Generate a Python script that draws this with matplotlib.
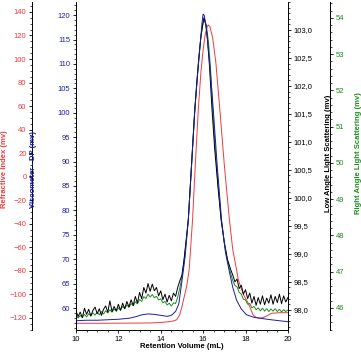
import numpy as np
import matplotlib
matplotlib.use("Agg")
import matplotlib.pyplot as plt
from matplotlib.ticker import AutoMinorLocator, FuncFormatter

plt.rcParams['font.family'] = ['Liberation Sans Narrow', 'Liberation Sans', 'DejaVu Sans']

# Refractive index (mV)
ri_x = [10.0, 11.0, 12.0, 13.0, 13.5, 14.0, 14.4, 14.6, 14.75, 14.9, 15.0, 15.1, 15.22, 15.34,
        15.5, 15.63, 15.77, 15.9, 16.0, 16.1, 16.18, 16.24, 16.32, 16.45, 16.6, 16.79, 17.0,
        17.24, 17.4, 17.58, 17.66, 17.9, 18.13, 18.36, 18.5, 18.68, 18.85, 19.0, 19.23, 19.6, 20.0]
ri_y = [-124.5, -124.5, -124.4, -124.3, -124.2, -123.8, -123.1, -122.5, -121.5, -117.0, -110.4,
        -102.5, -93.4, -79.2, -36.7, 10.0, 56.7, 90.0, 108.0, 121.0, 127.0, 129.0, 127.5, 118.0,
        97.0, 56.7, 10.0, -36.7, -62.0, -79.2, -87.7, -100.0, -107.5, -117.4, -119.5, -120.2,
        -119.5, -118.3, -116.0, -115.5, -115.5]

# Viscometer DP (mV)
dp_x = [10.0, 10.5, 11.0, 11.5, 12.0, 12.5, 12.8, 13.1, 13.4, 13.7, 14.0, 14.3, 14.5, 14.7,
        14.85, 15.0, 15.15, 15.3, 15.45, 15.61, 15.75, 15.85, 15.95, 16.0, 16.05, 16.15, 16.3,
        16.48, 16.65, 16.87, 17.05, 17.22, 17.4, 17.58, 17.8, 18.05, 18.4, 18.7, 19.2, 19.6, 20.0]
dp_y = [57.4, 57.5, 57.5, 57.6, 57.7, 57.9, 58.2, 58.6, 58.8, 58.7, 58.5, 58.3, 58.5, 59.3,
        60.8, 65.5, 70.5, 78.0, 89.0, 100.6, 108.5, 113.5, 118.5, 120.2, 120.0, 117.5, 110.5,
        100.6, 90.0, 78.0, 71.5, 67.8, 64.2, 61.6, 59.8, 58.6, 58.1, 57.9, 57.6, 57.4, 57.2]

# Low angle light scattering (mV)
lals_x = [10.0, 10.1, 10.2, 10.3, 10.4, 10.5, 10.6, 10.7, 10.8, 10.9,
          11.0, 11.1, 11.2, 11.3, 11.4, 11.5, 11.6, 11.7, 11.8, 11.9,
          12.0, 12.1, 12.2, 12.3, 12.4, 12.5, 12.6, 12.7, 12.8, 12.9,
          13.0, 13.1, 13.2, 13.3, 13.4, 13.5, 13.6, 13.7, 13.8, 13.9,
          14.0, 14.1, 14.2, 14.3, 14.4, 14.5, 14.6, 14.7, 14.8, 14.9,
          15.0, 15.1, 15.2, 15.3, 15.4, 15.5, 15.6, 15.7, 15.8, 15.9, 16.0, 16.04, 16.12,
          16.2, 16.3, 16.42, 16.55, 16.7, 16.85, 17.0, 17.15, 17.3,
          17.4, 17.5, 17.6, 17.7, 17.8, 17.9, 18.0, 18.1, 18.2, 18.3, 18.4, 18.5, 18.6,
          18.7, 18.8, 18.9, 19.0, 19.1, 19.2, 19.3, 19.4, 19.5, 19.6, 19.7, 19.8, 19.9, 20.0]
lals_y = [97.98, 97.88, 97.96, 97.86, 98.03, 97.92, 98.01, 97.89, 97.99, 98.05,
          97.93, 98.02, 97.90, 98.01, 98.07, 97.96, 98.16, 97.97, 98.06, 97.98,
          98.10, 97.99, 98.12, 98.02, 98.15, 98.05, 98.18, 98.08, 98.24, 98.12,
          98.31, 98.20, 98.40, 98.30, 98.47, 98.33, 98.46, 98.34, 98.40, 98.25,
          98.34, 98.18, 98.28, 98.14, 98.26, 98.16, 98.30, 98.24, 98.40, 98.52,
          98.62, 98.90, 99.25, 99.61, 100.25, 100.90, 101.55, 102.05, 102.50, 102.90, 103.15,
          103.22, 103.10, 102.85, 102.35, 101.57, 100.85, 100.20, 99.61, 99.20, 98.90, 98.72,
          98.62, 98.50, 98.55, 98.38, 98.44, 98.28, 98.36, 98.20, 98.30, 98.12, 98.24, 98.08,
          98.22, 98.10, 98.25, 98.09, 98.21, 98.12, 98.27, 98.10, 98.24, 98.13, 98.28, 98.11,
          98.25, 98.14, 98.22]

# Right angle light scattering (mV)
rals_x = [10.0, 10.1, 10.2, 10.3, 10.4, 10.5, 10.6, 10.7, 10.8, 10.9,
          11.0, 11.1, 11.2, 11.3, 11.4, 11.5, 11.6, 11.7, 11.8, 11.9,
          12.0, 12.1, 12.2, 12.3, 12.4, 12.5, 12.6, 12.7, 12.8, 12.9,
          13.0, 13.1, 13.2, 13.3, 13.4, 13.5, 13.6, 13.7, 13.8, 13.9,
          14.0, 14.1, 14.2, 14.3, 14.4, 14.5, 14.6, 14.7, 14.8, 14.9,
          15.0, 15.1, 15.2, 15.3, 15.4, 15.5, 15.6, 15.7, 15.8, 15.9, 16.0, 16.06, 16.15,
          16.25, 16.35, 16.45, 16.55, 16.7, 16.85, 17.0, 17.15, 17.3,
          17.4, 17.5, 17.6, 17.7, 17.8, 17.9, 18.0, 18.1, 18.2, 18.3, 18.4, 18.5, 18.6,
          18.7, 18.8, 18.9, 19.0, 19.1, 19.2, 19.3, 19.4, 19.5, 19.6, 19.7, 19.8, 19.9, 20.0]
rals_y = [45.80, 45.72, 45.79, 45.74, 45.82, 45.75, 45.84, 45.78, 45.86, 45.80,
          45.88, 45.81, 45.90, 45.83, 45.92, 45.86, 45.95, 45.88, 45.97, 45.91,
          46.00, 45.94, 46.04, 45.98, 46.08, 46.02, 46.12, 46.06, 46.17, 46.11,
          46.23, 46.18, 46.31, 46.26, 46.38, 46.30, 46.37, 46.28, 46.32, 46.22,
          46.25, 46.14, 46.18, 46.08, 46.13, 46.05, 46.14, 46.12, 46.30, 46.55,
          46.85, 47.30, 47.85, 48.43, 49.40, 50.40, 51.40, 52.20, 52.95, 53.50, 53.85,
          53.95, 53.80, 53.35, 52.60, 51.50, 50.60, 49.40, 48.43, 47.80, 47.30, 46.95,
          46.75, 46.62, 46.58, 46.43, 46.38, 46.24, 46.22, 46.10, 46.12, 46.00, 46.04, 45.95,
          46.00, 45.92, 45.99, 45.91, 45.98, 45.90, 45.97, 45.91, 45.98, 45.90, 45.96, 45.89,
          45.95, 45.90, 45.94]

red = '#ee3b3b'
blue = '#1c1caa'
green = '#1e8c1e'
fs = 5.5

fig = plt.figure(figsize=(3.61, 3.52), dpi=100)
ax = fig.add_axes([0.2105, 0.0625, 0.587, 0.932])
ax_ri = ax.twinx()
ax_ls = ax.twinx()
ax_ra = ax.twinx()

for a in (ax, ax_ri, ax_ls, ax_ra):
    for s in a.spines.values():
        s.set_visible(False)
        s.set_linewidth(0.7)
    a.tick_params(labelsize=fs, width=0.6, length=2.5, pad=1.5)
    a.tick_params(which='minor', width=0.5, length=1.5)
    a.patch.set_visible(False)

# host: viscometer on left, x axis at bottom
ax.spines['left'].set_visible(True)
ax.spines['bottom'].set_visible(True)
ax.set_xlim(10, 20)
ax.set_ylim(55.5, 122.7)
ax.set_xticks([10, 12, 14, 16, 18, 20])
ax.xaxis.set_minor_locator(AutoMinorLocator(4))
ax.set_yticks(np.arange(60, 121, 5))
ax.yaxis.set_minor_locator(AutoMinorLocator(5))
ax.tick_params(axis='y', colors='black', labelcolor=blue)
ax.set_xlabel('Retention Volume (mL)', fontsize=fs, fontweight='bold', labelpad=0.5)
ax.set_ylabel('Viscometer - DP (mv)', fontsize=fs, fontweight='bold', color=blue)
ax.yaxis.set_label_coords(-0.184, 0.49)

# refractive index, offset left
ax_ri.spines['left'].set_visible(True)
ax_ri.spines['left'].set_position(('axes', -0.2075))
ax_ri.yaxis.set_ticks_position('left')
ax_ri.yaxis.set_label_position('left')
ax_ri.set_ylim(-130.2, 148.5)
ax_ri.set_yticks(np.arange(-120, 141, 20))
ax_ri.yaxis.set_minor_locator(AutoMinorLocator(4))
ax_ri.tick_params(axis='y', colors='black', labelcolor=red)
ax_ri.set_ylabel('Refractive Index (mv)', fontsize=fs, fontweight='bold', color=red)
ax_ri.yaxis.set_label_coords(-0.32, 0.49)

# low angle light scattering, right
ax_ls.spines['right'].set_visible(True)
ax_ls.set_ylim(97.64, 103.5)
ax_ls.set_yticks(np.arange(98.0, 103.01, 0.5))
ax_ls.yaxis.set_major_formatter(FuncFormatter(lambda v, p: ('%.1f' % v).replace('.', ',')))
ax_ls.yaxis.set_minor_locator(AutoMinorLocator(5))
ax_ls.set_ylabel('Low Angle Light Scattering (mv)', fontsize=fs, fontweight='bold', color='black')
ax_ls.yaxis.set_label_coords(1.175, 0.54)

# right angle light scattering, offset right
ax_ra.spines['right'].set_visible(True)
ax_ra.spines['right'].set_position(('axes', 1.198))
ax_ra.set_ylim(45.39, 54.44)
ax_ra.set_yticks(np.arange(46, 55, 1))
ax_ra.yaxis.set_minor_locator(AutoMinorLocator(5))
ax_ra.tick_params(axis='y', colors='black', labelcolor=green)
ax_ra.set_ylabel('Right Angle Light Scattering (mv)', fontsize=fs, fontweight='bold', color=green)
ax_ra.yaxis.set_label_coords(1.316, 0.54)

lw = 0.7
ax_ri.plot(ri_x, ri_y, color=red, lw=lw)
ax_ra.plot(rals_x, rals_y, color=green, lw=lw)
ax_ls.plot(lals_x, lals_y, color='black', lw=lw)
ax.plot(dp_x, dp_y, color=blue, lw=lw)

# draw order: red, green, black, blue on top
ax.set_zorder(4)
ax_ls.set_zorder(3)
ax_ra.set_zorder(2)
ax_ri.set_zorder(1)

fig.savefig('out.png', dpi=100)
